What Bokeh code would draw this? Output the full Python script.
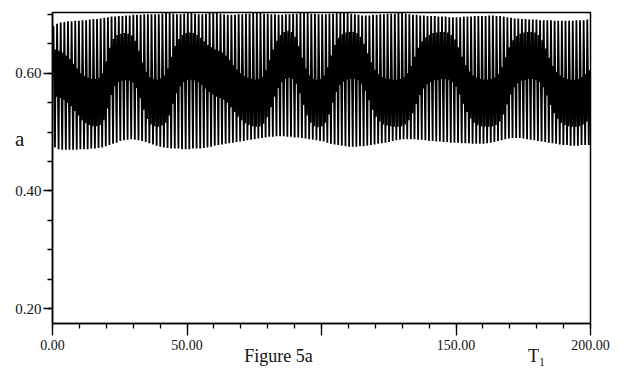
from bokeh.plotting import figure
from bokeh.models import FixedTicker, LinearAxis, ColumnDataSource
from bokeh.embed import file_html
from bokeh.resources import INLINE

# ---- data ----
period = 1.35           # period of the fast oscillation (T1 units)
t_first = 0.35          # T1 of the first maximum
a_start = 0.600         # value at T1 = 0

# maximum of each cycle
peaks = [
    0.680, 0.684, 0.686, 0.687, 0.688, 0.688, 0.689, 0.689, 0.690, 0.690,
    0.691, 0.692, 0.692, 0.693, 0.694, 0.695, 0.696, 0.696, 0.697, 0.697,
    0.698, 0.698, 0.699, 0.699, 0.699, 0.700, 0.700, 0.700, 0.700, 0.700,
    0.701, 0.702, 0.702, 0.701, 0.700, 0.700, 0.701, 0.702, 0.702, 0.701,
    0.700, 0.700, 0.701, 0.702, 0.702, 0.702, 0.701, 0.700, 0.699, 0.699,
    0.699, 0.700, 0.700, 0.701, 0.701, 0.702, 0.702, 0.702, 0.701, 0.701,
    0.700, 0.700, 0.699, 0.699, 0.700, 0.700, 0.701, 0.701, 0.702, 0.702,
    0.702, 0.701, 0.701, 0.700, 0.700, 0.700, 0.701, 0.701, 0.702, 0.702,
    0.702, 0.702, 0.701, 0.700, 0.699, 0.698, 0.698, 0.698, 0.699, 0.699,
    0.700, 0.700, 0.701, 0.701, 0.701, 0.702, 0.702, 0.701, 0.700, 0.699,
    0.699, 0.698, 0.698, 0.697, 0.697, 0.697, 0.696, 0.696, 0.696, 0.695,
    0.695, 0.695, 0.695, 0.696, 0.696, 0.696, 0.697, 0.697, 0.697, 0.697,
    0.698, 0.698, 0.697, 0.697, 0.696, 0.695, 0.694, 0.693, 0.693, 0.692,
    0.692, 0.691, 0.691, 0.691, 0.690, 0.690, 0.690, 0.690, 0.689, 0.689,
    0.689, 0.689, 0.689, 0.689, 0.690, 0.690, 0.690, 0.691,
]

# minimum of each cycle
troughs = [
    0.474, 0.471, 0.470, 0.470, 0.470, 0.470, 0.470, 0.471, 0.471, 0.471,
    0.472, 0.472, 0.473, 0.474, 0.476, 0.478, 0.480, 0.482, 0.485, 0.486,
    0.487, 0.488, 0.487, 0.486, 0.485, 0.483, 0.481, 0.479, 0.477, 0.475,
    0.474, 0.473, 0.472, 0.472, 0.472, 0.471, 0.471, 0.471, 0.472, 0.472,
    0.472, 0.473, 0.474, 0.475, 0.477, 0.478, 0.479, 0.480, 0.481, 0.482,
    0.483, 0.484, 0.485, 0.486, 0.487, 0.488, 0.489, 0.490, 0.491, 0.492,
    0.492, 0.493, 0.493, 0.493, 0.492, 0.492, 0.491, 0.491, 0.490, 0.489,
    0.488, 0.487, 0.486, 0.485, 0.484, 0.482, 0.480, 0.479, 0.478, 0.477,
    0.476, 0.475, 0.475, 0.475, 0.476, 0.476, 0.477, 0.478, 0.479, 0.480,
    0.481, 0.482, 0.483, 0.485, 0.486, 0.487, 0.488, 0.488, 0.488, 0.488,
    0.487, 0.487, 0.486, 0.485, 0.485, 0.484, 0.484, 0.483, 0.483, 0.482,
    0.482, 0.482, 0.481, 0.481, 0.481, 0.480, 0.480, 0.480, 0.480, 0.481,
    0.482, 0.483, 0.485, 0.486, 0.488, 0.489, 0.490, 0.490, 0.490, 0.489,
    0.488, 0.487, 0.486, 0.485, 0.484, 0.483, 0.482, 0.481, 0.480, 0.479,
    0.478, 0.478, 0.477, 0.477, 0.477, 0.478, 0.478, 0.478,
]

# level of the secondary wiggle (the dark band) in each cycle
knees = [
    0.600, 0.598, 0.595, 0.590, 0.584, 0.576, 0.568, 0.560, 0.555, 0.552,
    0.550, 0.550, 0.552, 0.560, 0.580, 0.603, 0.618, 0.625, 0.627, 0.628,
    0.627, 0.624, 0.615, 0.598, 0.578, 0.562, 0.553, 0.550, 0.549, 0.551,
    0.556, 0.568, 0.588, 0.606, 0.618, 0.625, 0.628, 0.629, 0.628, 0.625,
    0.620, 0.614, 0.608, 0.604, 0.600, 0.598, 0.595, 0.590, 0.582, 0.574,
    0.566, 0.560, 0.555, 0.552, 0.550, 0.549, 0.550, 0.554, 0.565, 0.582,
    0.600, 0.615, 0.625, 0.630, 0.632, 0.630, 0.622, 0.606, 0.586, 0.568,
    0.556, 0.550, 0.548, 0.550, 0.556, 0.570, 0.590, 0.608, 0.620, 0.626,
    0.629, 0.630, 0.630, 0.628, 0.622, 0.610, 0.594, 0.578, 0.566, 0.558,
    0.553, 0.551, 0.550, 0.549, 0.549, 0.550, 0.553, 0.560, 0.572, 0.588,
    0.603, 0.614, 0.621, 0.625, 0.628, 0.629, 0.630, 0.630, 0.629, 0.625,
    0.617, 0.604, 0.588, 0.574, 0.563, 0.556, 0.552, 0.550, 0.549, 0.549,
    0.550, 0.552, 0.558, 0.570, 0.587, 0.604, 0.616, 0.623, 0.627, 0.629,
    0.630, 0.630, 0.629, 0.625, 0.616, 0.602, 0.586, 0.572, 0.562, 0.556,
    0.552, 0.550, 0.549, 0.549, 0.550, 0.553, 0.558, 0.565,
]
knee_half = 0.04         # half height of the wiggle

x_major = [0, 50, 100, 150, 200]
x_minor = list(range(0, 201, 10))
x_labels = {0: "0.00", 50: "50.00", 100: "", 150: "150.00", 200: "200.00"}
y_major = [0.2, 0.4, 0.6]
y_minor = [0.20, 0.25, 0.30, 0.35, 0.40, 0.45, 0.50, 0.55, 0.60, 0.65, 0.70]
y_labels = {0.2: "0.20", 0.4: "0.40", 0.6: "0.60"}

# captions under the axis: (T1 position, text)
caption_pos = [84, 180]
caption_txt = {84: "Figure 5a", 180: "T\u2081"}

# ---- build the series: peak -> trough -> wiggle up -> wiggle down -> next peak ----
phase = [0.0, 0.42, 0.62, 0.80]
ts = [0.0]
vals = [a_start]
for i, (pk, tr, kn) in enumerate(zip(peaks, troughs, knees)):
    t0 = t_first + i * period
    for ph, v in zip(phase, [pk, tr, kn + knee_half, kn - knee_half]):
        ts.append(t0 + ph * period)
        vals.append(v)
src = ColumnDataSource(dict(t=ts, a=vals))

FONT = "Liberation Serif"

p = figure(width=621, height=377, x_range=(0, 200), y_range=(0.175, 0.703),
           output_backend="svg", toolbar_location=None,
           min_border_left=52, min_border_right=31, min_border_top=12, min_border_bottom=54)
p.background_fill_color = "white"
p.border_fill_color = "white"
p.outline_line_color = "black"
p.outline_line_width = 1.5
p.xgrid.visible = False
p.ygrid.visible = False

p.line("t", "a", source=src, line_color="black", line_width=1.8)

xa = p.xaxis[0]
xa.ticker = FixedTicker(ticks=x_major, minor_ticks=x_minor)
xa.major_label_overrides = x_labels
xa.major_tick_in = 0
xa.major_tick_out = 12
xa.minor_tick_in = 0
xa.minor_tick_out = 5
xa.axis_line_width = 1.5
xa.major_tick_line_width = 1.3
xa.minor_tick_line_width = 1.3
xa.major_label_text_font = FONT
xa.major_label_text_font_size = "14px"
xa.major_label_standoff = 4
xa.major_label_text_color = "#111"

# second (tickless) axis below, carrying the caption and the T1 symbol
cap = LinearAxis(ticker=FixedTicker(ticks=caption_pos, minor_ticks=[]),
                 major_label_overrides=caption_txt)
cap.axis_line_color = None
cap.major_tick_line_color = None
cap.minor_tick_line_color = None
cap.major_tick_in = 0
cap.major_tick_out = 0
cap.major_label_standoff = -7
cap.major_label_text_font = FONT
cap.major_label_text_font_size = "18px"
cap.major_label_text_color = "#111"
p.add_layout(cap, "below")

ya = p.yaxis[0]
ya.ticker = FixedTicker(ticks=y_major, minor_ticks=y_minor)
ya.major_label_overrides = y_labels
ya.major_tick_in = 0
ya.major_tick_out = 9
ya.minor_tick_in = 0
ya.minor_tick_out = 5
ya.axis_line_width = 1.5
ya.major_tick_line_width = 1.3
ya.minor_tick_line_width = 1.3
ya.major_label_text_font = FONT
ya.major_label_text_font_size = "15px"
ya.major_label_standoff = 2
ya.major_label_text_color = "#111"
ya.axis_label = "a\n\n"
ya.axis_label_orientation = "horizontal"
ya.axis_label_text_font = FONT
ya.axis_label_text_font_style = "normal"
ya.axis_label_text_font_size = "21px"
ya.axis_label_text_color = "#111"
ya.axis_label_standoff = -12

open("out.html", "w").write(file_html(p, INLINE))
